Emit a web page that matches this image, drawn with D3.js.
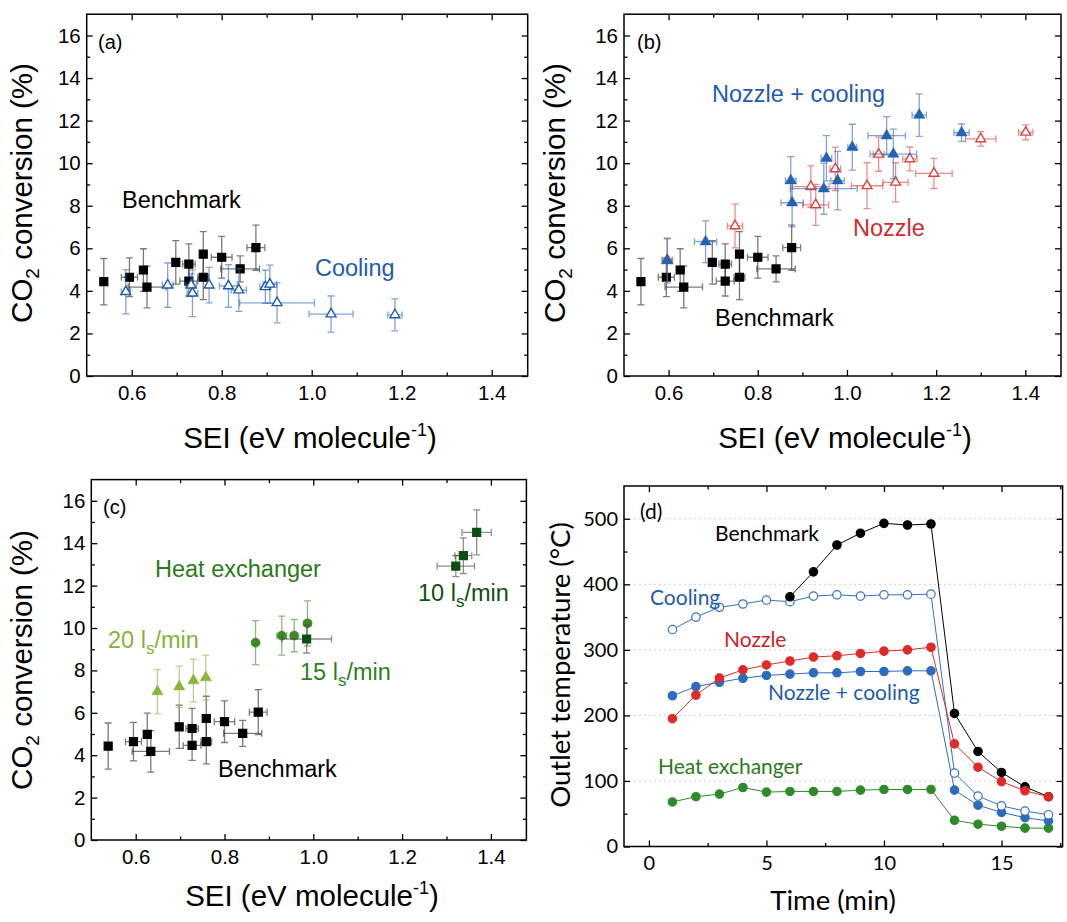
<!DOCTYPE html>
<html>
<head>
<meta charset="utf-8">
<title>CO2 conversion vs SEI</title>
<style>
  body { margin: 0; background: #fff; }
  svg text { font-family: "Liberation Sans", Arial, sans-serif; }
  .frame { fill: none; stroke: #000; stroke-width: 1.5; }
  .axis path { display: none; }
  .axis line { stroke: #000; stroke-width: 1.3; }
  .axis text { font-family: "Liberation Sans", Arial, sans-serif; font-size: 20.5px; fill: #000; }
  .axis-d text { font-family: Lato, sans-serif; font-size: 20px; }
  .grid line { stroke: #cfcfcf; stroke-dasharray: 2,3; }
  .note { font-size: 23.5px; }
  .note-d { font-family: Lato, sans-serif !important; font-size: 21px; }
  .title { font-size: 29.5px; }
  .title-d { font-family: Lato, sans-serif !important; font-size: 27.5px; font-weight: 400; }
</style>
<script src="https://d3js.org/d3.v7.min.js"></script>
</head>
<body>
<script>
// benchmark (same in a, b, c)
var benchSEI     = [0.538, 0.595, 0.626, 0.634, 0.698, 0.727, 0.727, 0.759, 0.759, 0.800, 0.841, 0.876];
var benchConv    = [4.43, 4.64, 4.98, 4.18, 5.34, 5.26, 4.46, 5.73, 4.64, 5.58, 5.03, 6.03];
var benchSEIErr  = [0, 0.018, 0, 0.042, 0, 0.014, 0.02, 0, 0.012, 0.023, 0.043, 0.02];
var benchConvErr = [1.09, 0.91, 1.0, 0.98, 1.02, 0.95, 0.7, 1.05, 1.05, 0.98, 0.61, 1.06];

// cooling (a)
var coolSEI     = [0.587, 0.680, 0.732, 0.735, 0.772, 0.815, 0.838, 0.897, 0.907, 0.923, 1.043, 1.185];
var coolConv    = [3.96, 4.27, 4.27, 3.89, 4.27, 4.23, 4.04, 4.19, 4.31, 3.44, 2.91, 2.87];
var coolSEIErr  = [0.01, 0.012, 0.012, 0.012, 0, 0.02, 0.017, 0.012, 0.015, 0.083, 0.049, 0.016];
var coolConvErr = [1.04, 1.04, 0.53, 1.1, 0.83, 1.0, 1.0, 0.78, 0.9, 0.94, 0.85, 0.75];

// nozzle (b)
var nozSEI     = [0.597, 0.749, 0.919, 0.930, 0.974, 1.045, 1.071, 1.109, 1.141, 1.195, 1.300, 1.401];
var nozConv    = [5.45, 7.05, 8.9, 8.04, 9.73, 8.94, 10.42, 9.1, 10.2, 9.52, 11.14, 11.45];
var nozSEIErr  = [0.012, 0.017, 0.041, 0.029, 0.012, 0.035, 0.012, 0.028, 0.016, 0.041, 0.034, 0.016];
var nozConvErr = [1.0, 1.03, 0.97, 0.96, 1.02, 1.08, 0.8, 0.92, 0.56, 0.71, 0.34, 0.35];

// nozzle + cooling (b)
var ncSEI     = [0.597, 0.683, 0.874, 0.877, 0.948, 0.954, 0.979, 1.012, 1.089, 1.104, 1.162, 1.257];
var ncConv    = [5.42, 6.31, 9.18, 8.14, 8.8, 10.23, 9.18, 10.75, 11.29, 10.43, 12.26, 11.43];
var ncSEIErr  = [0.01, 0.025, 0.012, 0.025, 0.075, 0.012, 0.015, 0.01, 0.042, 0.052, 0.016, 0.017];
var ncConvErr = [1.06, 0.98, 1.13, 1.13, 1.2, 1.06, 1.37, 1.08, 0.9, 1.17, 1.0, 0.41];

// heat exchanger (c)
var hx20SEI = [0.649, 0.698, 0.730, 0.758];
var hx20Conv = [7.0, 7.23, 7.52, 7.66];
var hx20SEIErr = [0, 0, 0, 0];
var hx20ConvErr = [1.04, 0.97, 1.0, 1.06];
var hx15SEI = [0.870, 0.929, 0.957, 0.987];
var hx15Conv = [9.31, 9.64, 9.64, 10.22];
var hx15SEIErr = [0, 0.011, 0.008, 0.008];
var hx15ConvErr = [1.04, 0.92, 0.76, 1.06];
var hx10SEI = [0.985, 1.321, 1.338, 1.368];
var hx10Conv = [9.48, 12.92, 13.41, 14.51];
var hx10SEIErr = [0.056, 0.042, 0.019, 0.033];
var hx10ConvErr = [0.66, 0.5, 0.84, 1.06];

// outlet temperature (d)
var timeMin   = [1, 2, 3, 4, 5, 6, 7, 8, 9, 10, 11, 12, 13, 14, 15, 16, 17];
var tBench    = [null, null, null, null, null, 381, 419, 460, 478, 493, 490.5, 492, 203, 145, 113, 91, 76];
var tCool     = [331, 350, 365, 370, 376, 373.5, 382, 384, 382, 384, 384, 385, 112, 77, 62, 54, 48.5];
var tNozzle   = [195, 231, 257, 269.5, 277, 283, 289, 291, 294.5, 298, 300, 304, 156.5, 121, 99, 85, 76];
var tNozCool  = [230, 244, 250.6, 256.7, 261, 263, 265, 265, 267, 267, 268, 268, 86, 63, 52, 44, 39];
var tHeatEx   = [68, 76, 80, 90, 83, 84, 84, 84, 86, 87, 87, 87, 40, 34, 31, 28, 28];

var seiMajor = [0.6, 0.8, 1.0, 1.2, 1.4];
var seiMinor = [0.7, 0.9, 1.1, 1.3];
var convMajor = [0, 2, 4, 6, 8, 10, 12, 14, 16];
var convMinor = [1, 3, 5, 7, 9, 11, 13, 15];
var timeMajor = [0, 5, 10, 15];
var timeMinor = [2.5, 7.5, 12.5, 17.5];
var tempMajor = [0, 100, 200, 300, 400, 500];
var tempMinor = [50, 150, 250, 350, 450];

var svg = d3.select('body').append('svg').attr('width', 1067).attr('height', 922);

function pts(xs, ys, xe, ye) {
  return xs.map(function(v, i) { return {x: v, y: ys[i], xe: xe[i], ye: ye[i]}; });
}

function axes(x, y, o) {
  var x0 = x.range()[0], x1 = x.range()[1], y0 = y.range()[0], y1 = y.range()[1];
  var g = svg.append('g').attr('class', 'axis ' + (o.cls || ''));
  var none = function() { return ''; };
  g.append('g').attr('transform', 'translate(0,' + y0 + ')')
    .call(d3.axisBottom(x).tickValues(o.xMajor).tickSize(-6).tickSizeOuter(0).tickPadding(9).tickFormat(o.xFmt));
  g.append('g').attr('transform', 'translate(0,' + y0 + ')')
    .call(d3.axisBottom(x).tickValues(o.xMinor).tickSize(-3.5).tickSizeOuter(0).tickFormat(none));
  g.append('g').attr('transform', 'translate(0,' + y1 + ')')
    .call(d3.axisTop(x).tickValues(o.xMajor).tickSize(-6).tickSizeOuter(0).tickFormat(none));
  g.append('g').attr('transform', 'translate(0,' + y1 + ')')
    .call(d3.axisTop(x).tickValues(o.xMinor).tickSize(-3.5).tickSizeOuter(0).tickFormat(none));
  g.append('g').attr('transform', 'translate(' + x0 + ',0)')
    .call(d3.axisLeft(y).tickValues(o.yMajor).tickSize(-6).tickSizeOuter(0).tickPadding(6).tickFormat(o.yFmt));
  g.append('g').attr('transform', 'translate(' + x0 + ',0)')
    .call(d3.axisLeft(y).tickValues(o.yMinor).tickSize(-3.5).tickSizeOuter(0).tickFormat(none));
  g.append('g').attr('transform', 'translate(' + x1 + ',0)')
    .call(d3.axisRight(y).tickValues(o.yMajor).tickSize(-6).tickSizeOuter(0).tickFormat(none));
  g.append('g').attr('transform', 'translate(' + x1 + ',0)')
    .call(d3.axisRight(y).tickValues(o.yMinor).tickSize(-3.5).tickSizeOuter(0).tickFormat(none));
  svg.append('rect').attr('class', 'frame')
    .attr('x', x0).attr('y', y1).attr('width', x1 - x0).attr('height', y0 - y1);
}

function series(x, y, data, o) {
  var cap = 3.5;
  var g = svg.append('g');
  g.append('g').selectAll('path').data(data).join('path')
    .attr('fill', 'none').attr('stroke', o.err).attr('stroke-opacity', 0.6).attr('stroke-width', 1.3)
    .attr('d', function(d) {
      var cx = x(d.x), cy = y(d.y), s = '';
      if (d.ye > 0) {
        var a = y(d.y + d.ye), b = y(d.y - d.ye);
        s += 'M' + cx + ',' + a + 'V' + b + 'M' + (cx - cap) + ',' + a + 'H' + (cx + cap) + 'M' + (cx - cap) + ',' + b + 'H' + (cx + cap);
      }
      if (d.xe > 0) {
        var l = x(d.x - d.xe), r = x(d.x + d.xe);
        s += 'M' + l + ',' + cy + 'H' + r + 'M' + l + ',' + (cy - cap) + 'V' + (cy + cap) + 'M' + r + ',' + (cy - cap) + 'V' + (cy + cap);
      }
      return s;
    });
  g.append('g').selectAll('path').data(data).join('path')
    .attr('transform', function(d) { return 'translate(' + x(d.x) + ',' + y(d.y) + ')'; })
    .attr('d', d3.symbol(o.shape, o.size))
    .attr('fill', o.fill).attr('stroke', o.stroke).attr('stroke-width', o.sw || 1.2);
}

function note(x, y, txt, color, cls) {
  return svg.append('text').attr('class', cls || 'note').attr('x', x).attr('y', y).attr('fill', color).text(txt);
}

function convTitle(cx, cy) {
  var t = svg.append('text').attr('class', 'title').attr('text-anchor', 'middle')
    .attr('transform', 'translate(' + cx + ',' + cy + ') rotate(-90)');
  t.append('tspan').text('CO');
  t.append('tspan').text('2').attr('font-size', '19px').attr('dy', 7);
  t.append('tspan').text(' conversion (%)').attr('dy', -7);
}

function seiTitle(cx, cy) {
  var t = svg.append('text').attr('class', 'title').attr('text-anchor', 'middle').attr('x', cx).attr('y', cy);
  t.append('tspan').text('SEI (eV molecule');
  t.append('tspan').text('-1').attr('font-size', '18px').attr('dy', -12);
  t.append('tspan').text(')').attr('dy', 12);
}

function lsNote(x, y, num, color) {
  var t = svg.append('text').attr('class', 'note').attr('x', x).attr('y', y).attr('fill', color);
  t.append('tspan').text(num + ' l');
  t.append('tspan').text('s').attr('font-size', '17px').attr('dy', 6);
  t.append('tspan').text('/min').attr('dy', -6);
}

var f1 = d3.format('.1f'), f0 = d3.format('d');
var seiOpts = {xMajor: seiMajor, xMinor: seiMinor, yMajor: convMajor, yMinor: convMinor, xFmt: f1, yFmt: f0};

var black = '#000000', blue = '#1f5bab', red = '#d42a2a';
var benchStyle = {shape: d3.symbolSquare, size: 64, fill: black, stroke: black, err: '#222', sw: 0};

// ---- (a)
var xa = d3.scaleLinear().domain([0.5, 1.48]).range([86.7, 527.7]);
var ya = d3.scaleLinear().domain([0, 17]).range([376, 14.2]);
axes(xa, ya, seiOpts);
series(xa, ya, pts(benchSEI, benchConv, benchSEIErr, benchConvErr), benchStyle);
series(xa, ya, pts(coolSEI, coolConv, coolSEIErr, coolConvErr),
  {shape: d3.symbolTriangle, size: 42, fill: '#fff', stroke: blue, err: '#2e67b8', sw: 1.4});
note(98, 49, '(a)', black).style('font-size', '20px');
note(122, 208, 'Benchmark', black);
note(315, 276, 'Cooling', blue);
convTitle(32, 193);
seiTitle(310, 448);

// ---- (b)
var xb = d3.scaleLinear().domain([0.5, 1.48]).range([624, 1061]);
var yb = ya;
axes(xb, yb, seiOpts);
series(xb, yb, pts(benchSEI, benchConv, benchSEIErr, benchConvErr), benchStyle);
series(xb, yb, pts(nozSEI, nozConv, nozSEIErr, nozConvErr),
  {shape: d3.symbolTriangle, size: 42, fill: '#fff', stroke: '#e0403c', err: '#e0403c', sw: 1.4});
series(xb, yb, pts(ncSEI, ncConv, ncSEIErr, ncConvErr),
  {shape: d3.symbolTriangle, size: 55, fill: '#2563b0', stroke: '#2563b0', err: '#2e67b8', sw: 0.5});
note(637, 49, '(b)', black).style('font-size', '20px');
note(712, 102, 'Nozzle + cooling', blue);
note(853, 236, 'Nozzle', red);
note(715, 326, 'Benchmark', black);
convTitle(565, 193);
seiTitle(845, 448);

// ---- (c)
var xc = d3.scaleLinear().domain([0.5, 1.48]).range([91.3, 526.4]);
var yc = d3.scaleLinear().domain([0, 17]).range([840, 479.6]);
axes(xc, yc, seiOpts);
series(xc, yc, pts(benchSEI, benchConv, benchSEIErr, benchConvErr), benchStyle);
series(xc, yc, pts(hx20SEI, hx20Conv, hx20SEIErr, hx20ConvErr),
  {shape: d3.symbolTriangle, size: 55, fill: '#8ab43a', stroke: '#8ab43a', err: '#8ab43a', sw: 0.5});
series(xc, yc, pts(hx15SEI, hx15Conv, hx15SEIErr, hx15ConvErr),
  {shape: d3.symbolCircle, size: 66, fill: '#3b8a26', stroke: '#3b8a26', err: '#3b8a26', sw: 0.5});
series(xc, yc, pts(hx10SEI, hx10Conv, hx10SEIErr, hx10ConvErr),
  {shape: d3.symbolSquare, size: 64, fill: '#0d4f12', stroke: '#0d4f12', err: '#444', sw: 0});
note(103, 514, '(c)', black).style('font-size', '20px');
note(155, 577, 'Heat exchanger', '#2a7a1c');
lsNote(108, 648, '20', '#86b23a');
lsNote(300, 680, '15', '#2f7f22');
lsNote(418, 601, '10', '#0f4f12');
note(218, 777, 'Benchmark', black);
convTitle(32, 660);
seiTitle(312, 906);

// ---- (d)
var xd = d3.scaleLinear().domain([-1.06, 17.6]).range([624, 1062.6]);
var yd = d3.scaleLinear().domain([0, 550]).range([846.5, 486]);
svg.append('g').attr('class', 'grid').selectAll('line').data(tempMajor.slice(1)).join('line')
  .attr('x1', xd.range()[0]).attr('x2', xd.range()[1])
  .attr('y1', function(d) { return yd(d); }).attr('y2', function(d) { return yd(d); });
axes(xd, yd, {cls: 'axis-d', xMajor: timeMajor, xMinor: timeMinor, yMajor: tempMajor, yMinor: tempMinor, xFmt: f0, yFmt: f0});

var tSeries = [
  {v: tHeatEx, c: '#2f8a2a', fill: '#2f8a2a'},
  {v: tNozCool, c: '#2d6cbd', fill: '#2d6cbd'},
  {v: tCool, c: '#3571c2', fill: '#fff'},
  {v: tBench, c: '#000', fill: '#000'},
  {v: tNozzle, c: '#e02a2a', fill: '#e02a2a'}
];
var lineGen = d3.line().defined(function(d) { return d.v != null; })
  .x(function(d) { return xd(d.t); }).y(function(d) { return yd(d.v); });
tSeries.forEach(function(s) {
  var data = timeMin.map(function(t, i) { return {t: t, v: s.v[i]}; });
  var g = svg.append('g');
  g.append('path').datum(data).attr('d', lineGen).attr('fill', 'none').attr('stroke', s.c).attr('stroke-width', 1);
  g.selectAll('circle').data(data.filter(function(d) { return d.v != null; })).join('circle')
    .attr('cx', function(d) { return xd(d.t); }).attr('cy', function(d) { return yd(d.v); })
    .attr('r', 4.2).attr('fill', s.fill).attr('stroke', s.c).attr('stroke-width', 1.2);
});
note(640, 519, '(d)', black, 'note note-d');
note(715, 541, 'Benchmark', black, 'note note-d');
note(650, 605, 'Cooling', '#1f5bab', 'note note-d');
note(724, 647, 'Nozzle', '#cc1f1f', 'note note-d');
note(768, 700, 'Nozzle + cooling', '#1f5bab', 'note note-d');
note(658, 774, 'Heat exchanger', '#2a7a1c', 'note note-d');
svg.append('text').attr('class', 'title title-d').attr('text-anchor', 'middle')
  .attr('transform', 'translate(570,665) rotate(-90)').text('Outlet temperature (°C)');
svg.append('text').attr('class', 'title title-d').attr('text-anchor', 'middle')
  .attr('x', 833).attr('y', 910).text('Time (min)');
</script>
</body>
</html>
